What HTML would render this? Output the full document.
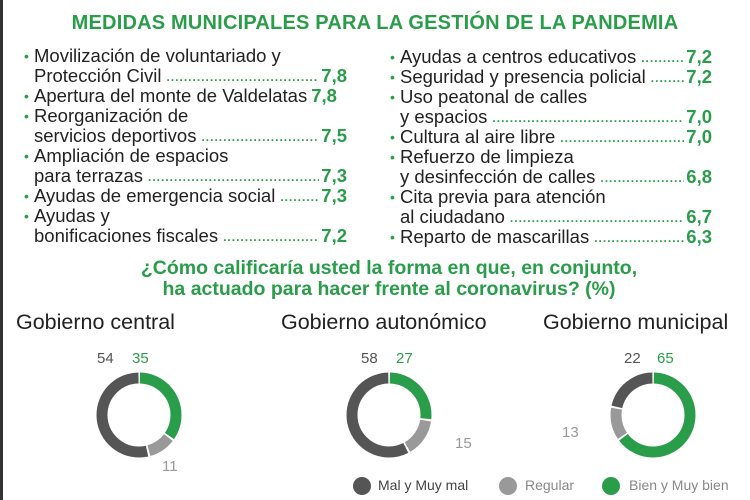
<!DOCTYPE html>
<html><head><meta charset="utf-8"><style>
*{margin:0;padding:0;box-sizing:border-box}
body{width:750px;height:500px;background:#fff;font-family:"Liberation Sans",sans-serif;color:#222;position:relative;overflow:hidden}
.lb{position:absolute;left:0;top:0;width:3px;height:500px;background:#333}
.title{position:absolute;top:12px;left:0;width:750px;text-align:center;color:#2a9d4a;font-weight:bold;font-size:20px;letter-spacing:0.2px}
.col{position:absolute;top:46px;font-size:18.5px}
.row{height:20px;line-height:20px;display:flex;white-space:nowrap;position:relative}
.b{position:absolute;left:-10px;color:#2a9d4a;font-size:14px}
.d{flex:1;overflow:hidden;color:#2a9d4a;font-weight:bold;font-size:12px;letter-spacing:1px;margin:0 2px 0 5px;line-height:22px}
.v{color:#2a9d4a;font-weight:bold}
.sub{position:absolute;top:258px;left:14px;width:750px;text-align:center;color:#2a9d4a;font-weight:bold;font-size:19.5px;line-height:21px}
.gt{position:absolute;top:310px;font-size:21.5px;color:#222}
.n{position:absolute;font-size:15px}
.g{color:#2a9d4a}.dk{color:#555}.lg{color:#999}
</style></head><body>
<div class="lb"></div>
<div class="title">MEDIDAS MUNICIPALES PARA LA GESTIÓN DE LA PANDEMIA</div>
<div class="col" style="left:34px;width:313px">
<div class="row"><span class="b">•</span>Movilización de voluntariado y</div>
<div class="row">Protección Civil<span class="d">........................................................</span><span class="v">7,8</span></div>
<div class="row"><span class="b">•</span>Apertura del monte de Valdelatas<span class="d" style="margin:0 0 0 4px;flex:0"></span><span class="v">7,8</span></div>
<div class="row"><span class="b">•</span>Reorganización de</div>
<div class="row">servicios deportivos<span class="d">........................................................</span><span class="v">7,5</span></div>
<div class="row"><span class="b">•</span>Ampliación de espacios</div>
<div class="row">para terrazas<span class="d">........................................................</span><span class="v">7,3</span></div>
<div class="row"><span class="b">•</span>Ayudas de emergencia social<span class="d">........................................................</span><span class="v">7,3</span></div>
<div class="row"><span class="b">•</span>Ayudas y</div>
<div class="row">bonificaciones fiscales<span class="d">........................................................</span><span class="v">7,2</span></div>
</div>
<div class="col" style="left:400px;width:312px;top:47px">
<div class="row"><span class="b">•</span>Ayudas a centros educativos<span class="d">........................................................</span><span class="v">7,2</span></div>
<div class="row"><span class="b">•</span>Seguridad y presencia policial<span class="d">........................................................</span><span class="v">7,2</span></div>
<div class="row"><span class="b">•</span>Uso peatonal de calles</div>
<div class="row">y espacios<span class="d">........................................................</span><span class="v">7,0</span></div>
<div class="row"><span class="b">•</span>Cultura al aire libre<span class="d">........................................................</span><span class="v">7,0</span></div>
<div class="row"><span class="b">•</span>Refuerzo de limpieza</div>
<div class="row">y desinfección de calles<span class="d">........................................................</span><span class="v">6,8</span></div>
<div class="row"><span class="b">•</span>Cita previa para atención</div>
<div class="row">al ciudadano<span class="d">........................................................</span><span class="v">6,7</span></div>
<div class="row"><span class="b">•</span>Reparto de mascarillas<span class="d">........................................................</span><span class="v">6,3</span></div>
</div>
<div class="sub">¿Cómo calificaría usted la forma en que, en conjunto,<br>ha actuado para hacer frente al coronavirus? (%)</div>
<div class="gt" style="left:16px">Gobierno central</div>
<div class="gt" style="left:281px">Gobierno autonómico</div>
<div class="gt" style="left:543px">Gobierno municipal</div>
<svg width="750" height="500" style="position:absolute;left:0;top:0">
<g fill="none" stroke-width="11">
<g transform="translate(139,415) rotate(-90)">
<circle r="37" stroke="#2a9d4a" stroke-dasharray="79.4 232.48" stroke-dashoffset="-0.9"/>
<circle r="37" stroke="#999" stroke-dasharray="23.8 232.48" stroke-dashoffset="-82.2"/>
<circle r="37" stroke="#555" stroke-dasharray="123.7 232.48" stroke-dashoffset="-107.9"/>
</g>
<g transform="translate(389,415) rotate(-90)">
<circle r="37" stroke="#2a9d4a" stroke-dasharray="60.9 232.48" stroke-dashoffset="-0.9"/>
<circle r="37" stroke="#999" stroke-dasharray="33 232.48" stroke-dashoffset="-63.7"/>
<circle r="37" stroke="#555" stroke-dasharray="132.8 232.48" stroke-dashoffset="-98.6"/>
</g>
<g transform="translate(653,415) rotate(-90)">
<circle r="37" stroke="#2a9d4a" stroke-dasharray="149.3 232.48" stroke-dashoffset="-0.9"/>
<circle r="37" stroke="#999" stroke-dasharray="28.4 232.48" stroke-dashoffset="-152"/>
<circle r="37" stroke="#555" stroke-dasharray="49.2 232.48" stroke-dashoffset="-182.3"/>
</g>
</g>
<circle cx="362" cy="486" r="9" fill="#555"/>
<circle cx="508" cy="486" r="9" fill="#999"/>
<circle cx="611" cy="486" r="9" fill="#2a9d4a"/>
</svg>
<div class="n dk" style="left:97px;top:350px">54</div>
<div class="n g" style="left:132px;top:350px">35</div>
<div class="n lg" style="left:162px;top:458px">11</div>
<div class="n dk" style="left:361px;top:350px">58</div>
<div class="n g" style="left:396px;top:350px">27</div>
<div class="n lg" style="left:455px;top:435px">15</div>
<div class="n dk" style="left:624px;top:350px">22</div>
<div class="n g" style="left:657px;top:350px">65</div>
<div class="n lg" style="left:562px;top:424px">13</div>
<div class="n dk" style="left:378px;top:477px;font-size:14px;color:#444">Mal y Muy mal</div>
<div class="n lg" style="left:525px;top:477px;font-size:14px;color:#888">Regular</div>
<div class="n lg" style="left:629px;top:477px;font-size:14px;color:#888">Bien y Muy bien</div>
</body></html>
